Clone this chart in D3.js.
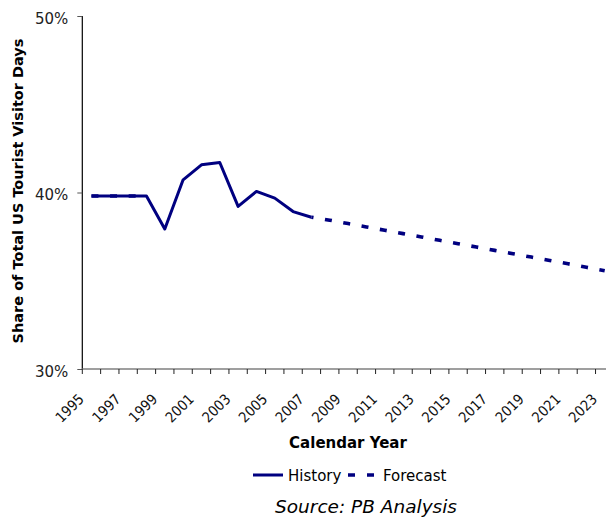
<!DOCTYPE html>
<html>
<head>
<meta charset="utf-8">
<script src="https://cdn.jsdelivr.net/npm/d3@7"></script>
<style>
  html, body { margin: 0; padding: 0; background: #fff; }
  svg { display: block; font-family: "DejaVu Sans", Verdana, sans-serif; }
</style>
</head>
<body>
<svg id="chart" width="606" height="519"></svg>
<script>
// ---- data ----
const years = d3.range(1995, 2024).map(String);
const historyValues = [39.8, 39.8, 39.8, 39.8, 37.93, 40.72, 41.57, 41.7, 39.21, 40.06, 39.68, 38.92, 38.6,
  null, null, null, null, null, null, null, null, null, null, null, null, null, null, null, null];
const forecastValues = [39.8, 39.8, 39.8, 39.8, null, null, null, null, null, null, null, null, 38.6,
  38.43, 38.24, 38.05, 37.86, 37.67, 37.48, 37.29, 37.1, 36.91, 36.72, 36.53, 36.34, 36.15, 35.96, 35.76, 35.57];
const yTicks = [30, 40, 50];
const xTickLabels = years.filter((d, i) => i % 2 === 0);
const seriesNames = ["History", "Forecast"];
const yTitle = "Share of Total US Tourist Visitor Days";
const xTitle = "Calendar Year";
const sourceText = "Source: PB Analysis";

// ---- layout ----
const svg = d3.select("#chart");
const navy = "#000080";
const plotLeft = 82.3, plotTop = 16, plotBottom = 369;
const band = 18.33;

const x = d3.scaleBand().domain(years).range([plotLeft, plotLeft + band * years.length]).padding(0);
const y = d3.scaleLinear().domain([30, 50]).range([plotBottom, plotTop]);
const cx = d => x(d) + x.bandwidth() / 2;

// y axis
const yAxis = svg.append("g").attr("transform", `translate(${plotLeft},0)`)
  .call(d3.axisLeft(y).tickValues(yTicks).tickFormat(d => d + "%").tickSize(5).tickPadding(0));
yAxis.select(".domain").attr("d", `M0,${plotTop}V${plotBottom}`).attr("stroke", "#000").attr("stroke-width", 1.2);
yAxis.selectAll(".tick line").attr("stroke", "#555");
yAxis.selectAll(".tick text").attr("font-size", 15).attr("fill", "#222")
  .attr("x", -14).attr("dy", null).attr("y", 7).attr("font-family", "DejaVu Sans");

// x axis
const xAxis = svg.append("g").attr("transform", `translate(0,${plotBottom})`)
  .call(d3.axisBottom(x).tickValues([]).tickSizeOuter(0));
xAxis.select(".domain").attr("d", `M${plotLeft},0H606`).attr("stroke", "#7f7f7f").attr("stroke-width", 1.5);
const tickPos = d3.range(years.length + 1).map(i => plotLeft + i * x.bandwidth());
xAxis.selectAll("line.xt").data(tickPos).join("line").attr("class", "xt")
  .attr("x1", d => d).attr("x2", d => d).attr("y1", 0).attr("y2", 5)
  .attr("stroke", "#222").attr("stroke-width", 1);
xAxis.selectAll("text.xl").data(xTickLabels).join("text").attr("class", "xl")
  .attr("transform", d => `translate(${cx(d) - 6.5},31) rotate(-45)`)
  .attr("text-anchor", "end").attr("font-size", 14.5)
  .attr("font-family", "'DejaVu Sans Condensed', 'DejaVu Sans', sans-serif")
  .attr("fill", "#111").text(d => d);

// axis titles
svg.append("text").attr("transform", `translate(23,191) rotate(-90)`)
  .attr("text-anchor", "middle").attr("font-weight", "bold").attr("font-size", 14.5)
  .attr("fill", "#000").text(yTitle);
svg.append("text").attr("x", 348).attr("y", 448).attr("text-anchor", "middle")
  .attr("font-weight", "bold").attr("font-size", 15).attr("fill", "#000").text(xTitle);

// lines
const line = d3.line().x((d, i) => cx(years[i])).y(d => y(d)).defined(d => d != null);

function segments(values) {
  const segs = [];
  let cur = [];
  values.forEach((v, i) => {
    if (v == null) { if (cur.length) segs.push(cur); cur = []; }
    else cur.push({ year: years[i], v });
  });
  if (cur.length) segs.push(cur);
  return segs;
}
const segLine = d3.line().x(d => cx(d.year)).y(d => y(d.v));

svg.append("path").attr("d", line(historyValues)).attr("fill", "none")
  .attr("stroke", navy).attr("stroke-width", 3).attr("stroke-linejoin", "round");

segments(forecastValues).forEach((seg, k) => {
  svg.append("path").attr("d", segLine(seg)).attr("fill", "none")
    .attr("stroke", navy).attr("stroke-width", 3.6)
    .attr("stroke-dasharray", "7 11.6")
    .attr("stroke-dashoffset", k === 0 ? 0 : 4.9);
});

// legend
const lg = svg.append("g");
lg.append("line").attr("x1", 253).attr("x2", 283).attr("y1", 475).attr("y2", 475)
  .attr("stroke", navy).attr("stroke-width", 3);
lg.append("text").attr("x", 288).attr("y", 481).attr("font-size", 15).attr("fill", "#000").text(seriesNames[0]);
lg.append("line").attr("x1", 348).attr("x2", 374).attr("y1", 475).attr("y2", 475)
  .attr("stroke", navy).attr("stroke-width", 3.6).attr("stroke-dasharray", "7 12");
lg.append("text").attr("x", 383).attr("y", 481).attr("font-size", 15).attr("fill", "#000").text(seriesNames[1]);

// source
svg.append("text").attr("x", 366).attr("y", 513).attr("text-anchor", "middle")
  .attr("font-style", "italic").attr("font-size", 18.5).attr("fill", "#000").text(sourceText);
</script>
</body>
</html>
